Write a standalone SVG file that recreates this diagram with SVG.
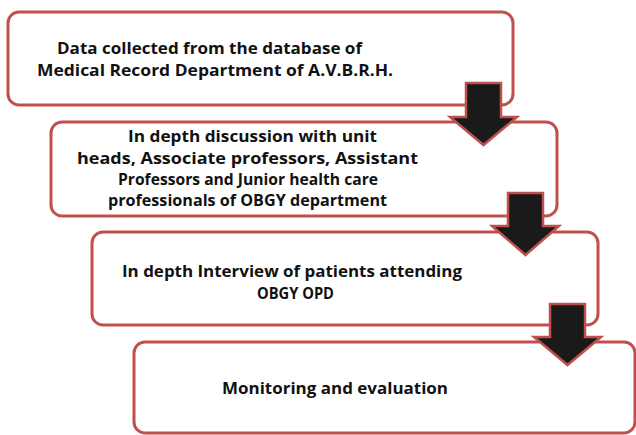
<svg xmlns="http://www.w3.org/2000/svg" width="636" height="435" viewBox="0 0 636 435">
  <style>
    .box { fill: #ffffff; stroke: #c0504d; stroke-width: 3; }
    .lbl { font-family: "Open Sans", "Liberation Sans", sans-serif; font-weight: 700; font-size: 16.5px; fill: #111111; text-anchor: middle; }
    .arrow { fill: #1a1a1a; stroke: #c0504d; stroke-width: 2.5; stroke-linejoin: miter; }
  </style>
  <rect width="636" height="435" fill="#ffffff"/>
  <g id="node1">
    <rect class="box" x="8" y="12" width="505" height="93" rx="11"/>
    <text class="lbl" x="209.5" y="54" textLength="305" lengthAdjust="spacingAndGlyphs">Data collected from the database of</text>
    <text class="lbl" x="215" y="76" textLength="356" lengthAdjust="spacingAndGlyphs">Medical Record Department of A.V.B.R.H.</text>
  </g>
  <g id="node2">
    <rect class="box" x="51" y="122" width="506" height="94" rx="11"/>
    <text class="lbl" x="252.5" y="142" textLength="249" lengthAdjust="spacingAndGlyphs">In depth discussion with unit</text>
    <text class="lbl" x="247.5" y="164" textLength="341" lengthAdjust="spacingAndGlyphs">heads,  Associate professors,  Assistant</text>
    <text class="lbl" x="248" y="185" textLength="260" lengthAdjust="spacingAndGlyphs">Professors and Junior health care</text>
    <text class="lbl" x="247.5" y="206" textLength="279" lengthAdjust="spacingAndGlyphs">professionals of OBGY department</text>
  </g>
  <g id="node3">
    <rect class="box" x="92" y="232" width="506" height="93" rx="11"/>
    <text class="lbl" x="292" y="277" textLength="340" lengthAdjust="spacingAndGlyphs">In depth Interview of patients attending</text>
    <text class="lbl" x="295.5" y="299" textLength="77" lengthAdjust="spacingAndGlyphs">OBGY OPD</text>
  </g>
  <g id="node4">
    <rect class="box" x="134" y="342" width="501" height="91" rx="11"/>
    <text class="lbl" x="335" y="394" textLength="226" lengthAdjust="spacingAndGlyphs">Monitoring and evaluation</text>
  </g>
  <g id="connectors">
    <polygon class="arrow" points="466,83 501,83 501,117 517,117 483.5,145 450,117 466,117"/>
    <polygon class="arrow" points="508,193 543,193 543,226 559,226 525.5,255 492,226 508,226"/>
    <polygon class="arrow" points="550,304 585,304 585,337 601,337 567.5,365 534,337 550,337"/>
  </g>
</svg>
